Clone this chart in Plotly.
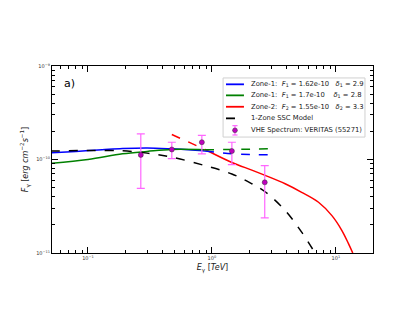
import plotly.graph_objects as go

# VERITAS VHE spectrum (TeV, erg cm^-2 s^-1)
obs_e = [0.267, 0.475, 0.83, 1.45, 2.67]
obs_f = [1.12e-10, 1.28e-10, 1.53e-10, 1.23e-10, 5.7e-11]
obs_hi = [1.88e-10, 1.53e-10, 1.81e-10, 1.53e-10, 8.6e-11]
obs_lo = [4.9e-11, 1.02e-10, 1.15e-10, 8.8e-11, 2.38e-11]

# Zone-1 (blue)
blue_e = [0.05, 0.08, 0.13, 0.19, 0.3, 0.475, 0.65, 0.88]
blue_f = [1.18e-10, 1.22e-10, 1.27e-10, 1.31e-10, 1.33e-10, 1.30e-10, 1.27e-10, 1.23e-10]
blue_ext_e = [0.88, 1.45, 2.1, 2.9]
blue_ext_f = [1.23e-10, 1.15e-10, 1.13e-10, 1.12e-10]

# Zone-1 (green)
green_e = [0.05, 0.1, 0.19, 0.3, 0.475, 0.88]
green_f = [9.1e-11, 1.0e-10, 1.15e-10, 1.22e-10, 1.28e-10, 1.27e-10]
green_ext_e = [0.88, 1.45, 2.1, 2.9]
green_ext_f = [1.27e-10, 1.28e-10, 1.29e-10, 1.30e-10]

# Zone-2 (red)
red_ext_e = [0.475, 0.88]
red_ext_f = [1.85e-10, 1.28e-10]
red_e = [0.88, 1.45, 2.1, 2.66, 3.9, 5.3, 7.25, 9.3, 11.2, 12.65, 13.7]
red_f = [1.28e-10, 9.3e-11, 7.7e-11, 6.8e-11, 5.5e-11, 4.46e-11, 3.49e-11,
         2.51e-11, 1.74e-11, 1.26e-11, 1.0e-11]

# 1-zone SSC model (black dashed)
ssc_e = [0.05, 0.1, 0.19, 0.3, 0.475, 0.88, 1.45, 2.1, 2.67, 3.9, 5.3, 6.8]
ssc_f = [1.23e-10, 1.25e-10, 1.24e-10, 1.17e-10, 1.06e-10, 8.6e-11, 7.0e-11,
         5.5e-11, 4.55e-11, 2.85e-11, 1.67e-11, 1.0e-11]

legend_labels = [
    "Zone-1:  <i>F</i><sub>1</sub> = 1.62e-10   <i>δ</i><sub>1</sub> = 2.9",
    "Zone-1:  <i>F</i><sub>1</sub> = 1.7e-10    <i>δ</i><sub>1</sub> = 2.8",
    "Zone-2:  <i>F</i><sub>2</sub> = 1.55e-10   <i>δ</i><sub>2</sub> = 3.3",
    "1-Zone SSC Model",
    "VHE Spectrum: VERITAS (55271)",
]

FONT = "DejaVu Sans"
BLUE, GREEN, RED = "#0000ff", "#008000", "#ff0000"
MAG, ERR = "#bf00bf", "#ff66ff"

fig = go.Figure()
for xs, ys, c, dash in [(blue_e, blue_f, BLUE, "solid"), (green_e, green_f, GREEN, "solid"),
                        (red_e, red_f, RED, "solid"), (ssc_e, ssc_f, "black", "dash"),
                        (blue_ext_e, blue_ext_f, BLUE, "dash"), (green_ext_e, green_ext_f, GREEN, "dash"),
                        (red_ext_e, red_ext_f, RED, "dash")]:
    fig.add_trace(go.Scatter(x=xs, y=ys, mode="lines", showlegend=False,
                             line=dict(color=c, width=1.5, dash=dash, shape="spline")))
fig.add_trace(go.Scatter(
    x=obs_e, y=obs_f, mode="markers", showlegend=False,
    marker=dict(color=MAG, size=5, line=dict(color="#333333", width=0.5)),
    error_y=dict(type="data", symmetric=False,
                 array=[h - f for h, f in zip(obs_hi, obs_f)],
                 arrayminus=[f - l for f, l in zip(obs_f, obs_lo)],
                 color=ERR, thickness=1.2, width=4),
))

axis_common = dict(type="log", showline=True, linecolor="black", linewidth=1.2, mirror="ticks",
                   ticks="inside", ticklen=6, tickcolor="black", showgrid=False, zeroline=False,
                   tickfont=dict(size=5, color="#333333", family=FONT),
                   minor=dict(ticks="inside", ticklen=3, tickcolor="black", dtick="D1"))

fig.update_xaxes(**axis_common, range=[-1.29, 1.30],
                 tickvals=[0.1, 1, 10], ticktext=["10<sup>−1</sup>", "10<sup>0</sup>", "10<sup>1</sup>"],
                 title=dict(text="<i>E</i><sub>γ</sub> [<i>TeV</i>]", font=dict(size=8, family=FONT), standoff=4))
fig.update_yaxes(**axis_common, range=[-11, -9],
                 tickvals=[1e-11, 1e-10, 1e-9],
                 ticktext=["10<sup>−11</sup>", "10<sup>−10</sup>", "10<sup>−9</sup>"],
                 title=dict(text="<i>F</i><sub>γ</sub> [<i>erg cm</i><sup>−2</sup><i>s</i><sup>−1</sup>]",
                            font=dict(size=8, family=FONT), standoff=6))

fig.add_annotation(text="a)", x=0.03, y=0.95, xref="paper", yref="paper", showarrow=False,
                   xanchor="left", yanchor="top", font=dict(size=11, family=FONT, color="black"))

# matplotlib-style legend box drawn by hand (compact rows)
fig.add_shape(type="rect", xref="paper", yref="paper", x0=0.533, x1=0.975, y0=0.62, y1=0.936,
              line=dict(color="#d0d0d0", width=1), fillcolor="rgba(255,255,255,0.85)", layer="above")
row_y = [0.902, 0.843, 0.782, 0.720, 0.656]
styles = [(BLUE, "solid"), (GREEN, "solid"), (RED, "solid"), ("black", "dash")]
for yy, (c, d) in zip(row_y, styles):
    fig.add_shape(type="line", xref="paper", yref="paper", x0=0.542, x1=0.598, y0=yy, y1=yy,
                  line=dict(color=c, width=1.8, dash=d), layer="above")
ym = row_y[4]
xm = 0.570
fig.add_shape(type="line", xref="paper", yref="paper", x0=xm, x1=xm, y0=ym - 0.025, y1=ym + 0.025,
              line=dict(color=ERR, width=1.2), layer="above")
for yc in (ym - 0.025, ym + 0.025):
    fig.add_shape(type="line", xref="paper", yref="paper", x0=xm - 0.008, x1=xm + 0.008, y0=yc, y1=yc,
                  line=dict(color=ERR, width=1.2), layer="above")
fig.add_shape(type="circle", xref="paper", yref="paper", x0=xm - 0.0075, x1=xm + 0.0075,
              y0=ym - 0.013, y1=ym + 0.013, fillcolor=MAG, line=dict(color="#333333", width=0.5),
              layer="above")
for yy, lab in zip(row_y, legend_labels):
    fig.add_annotation(text=lab, x=0.613, y=yy, xref="paper", yref="paper", showarrow=False,
                       xanchor="left", yanchor="middle", font=dict(size=6.8, family=FONT, color="#222222"))

fig.update_layout(
    width=415, height=321, paper_bgcolor="white", plot_bgcolor="white",
    font=dict(family=FONT, color="#222222"),
    margin=dict(l=44, r=50, t=58, b=76),
    showlegend=False,
)

fig.write_html("out.html")
